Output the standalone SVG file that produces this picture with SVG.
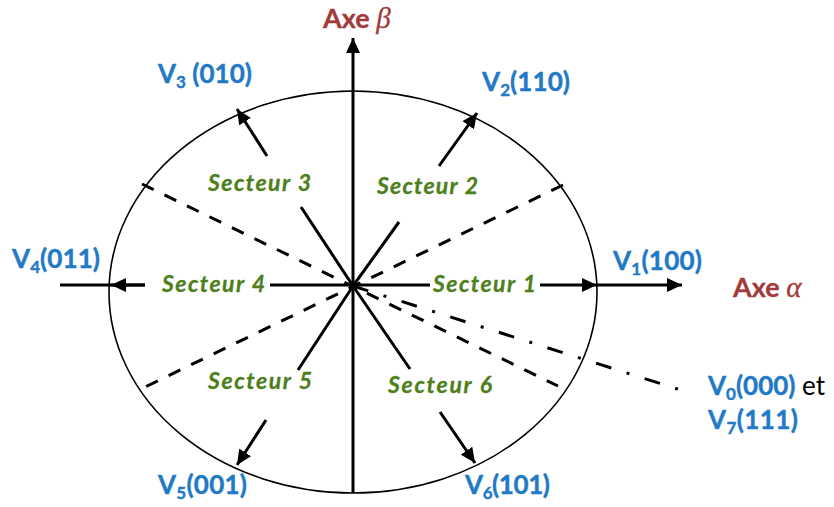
<svg xmlns="http://www.w3.org/2000/svg" width="834" height="507" viewBox="0 0 834 507">
<style>
.ln{stroke:#000;stroke-width:3;fill:none}
.ar{stroke:#000;stroke-width:3;fill:none;marker-end:url(#ah)}
.da{stroke:#000;stroke-width:3;fill:none;stroke-dasharray:13 12}
.dd{stroke:#000;stroke-width:3;fill:none;stroke-dasharray:16 16 3 16}
.v{font-family:Lato,"Liberation Sans",sans-serif;font-weight:bold;font-size:26px;fill:#2279c6;stroke:#2279c6;stroke-width:0.4}
.sub{font-size:17px}
.s{font-family:Lato,"Liberation Sans",sans-serif;font-weight:bold;font-style:italic;font-size:23px;fill:#4e7f1c;stroke:#4e7f1c;stroke-width:0.3}
.ax{font-family:Lato,"Liberation Sans",sans-serif;font-weight:bold;font-size:27px;fill:#a23a3a;stroke:#a23a3a;stroke-width:0.3}
.gr{font-family:"Liberation Serif",serif;font-style:italic;font-weight:normal;font-size:29px}
</style>
<defs>
<marker id="ah" markerUnits="userSpaceOnUse" markerWidth="16" markerHeight="14" refX="15" refY="7" orient="auto">
<path d="M0,0 L15,7 L0,14 z" fill="#000"/>
</marker>
</defs>
<g id="circle"><ellipse cx="353" cy="292" rx="244" ry="201" fill="none" stroke="#000" stroke-width="1.6"/></g>
<g id="connectors">
<line class="ar" x1="353" y1="493" x2="353" y2="38"/>
<line class="ln" x1="60" y1="285" x2="145" y2="285"/>
<line class="ar" x1="145" y1="285" x2="111" y2="285"/>
<line class="ln" x1="270" y1="285" x2="430" y2="285"/>
<line class="ar" x1="540" y1="285" x2="597" y2="285"/>
<line class="ar" x1="597" y1="285" x2="682" y2="285"/>
<line class="ln" x1="353" y1="286" x2="301" y2="207"/>
<line class="ar" x1="267" y1="156" x2="237" y2="109"/>
<line class="ln" x1="353" y1="286" x2="399" y2="222"/>
<line class="ar" x1="439" y1="166" x2="477" y2="113"/>
<line class="ln" x1="353" y1="286" x2="298" y2="370"/>
<line class="ar" x1="266" y1="420" x2="237" y2="465"/>
<line class="ln" x1="353" y1="286" x2="410" y2="369"/>
<line class="ar" x1="440" y1="412" x2="475" y2="463"/>
<line class="da" x1="142" y1="184" x2="558" y2="386"/>
<line class="da" x1="563" y1="185" x2="143" y2="388"/>
<line class="dd" x1="353" y1="286" x2="690" y2="393"/>
</g>
<g id="axe-beta"><text class="ax" x="323" y="28">Axe <tspan class="gr">β</tspan></text></g>
<g id="axe-alpha"><text class="ax" x="733" y="297">Axe <tspan class="gr">α</tspan></text></g>
<g id="v3"><text class="v" x="158" y="83" textLength="94">V<tspan class="sub" dy="5">3</tspan><tspan dy="-5"> (010)</tspan></text></g>
<g id="v2"><text class="v" x="482" y="91" textLength="88">V<tspan class="sub" dy="5">2</tspan><tspan dy="-5">(110)</tspan></text></g>
<g id="v4"><text class="v" x="12" y="268" textLength="88">V<tspan class="sub" dy="5">4</tspan><tspan dy="-5">(011)</tspan></text></g>
<g id="v1"><text class="v" x="613" y="270" textLength="89">V<tspan class="sub" dy="5">1</tspan><tspan dy="-5">(100)</tspan></text></g>
<g id="v0"><text class="v" x="708" y="395">V<tspan class="sub" dy="5">0</tspan><tspan dy="-5">(000)</tspan><tspan fill="#000" stroke="none" font-weight="normal"> et</tspan></text></g>
<g id="v7"><text class="v" x="708" y="429" textLength="90">V<tspan class="sub" dy="5">7</tspan><tspan dy="-5">(111)</tspan></text></g>
<g id="v5"><text class="v" x="158" y="494" textLength="89">V<tspan class="sub" dy="5">5</tspan><tspan dy="-5">(001)</tspan></text></g>
<g id="v6"><text class="v" x="465" y="494" textLength="85">V<tspan class="sub" dy="5">6</tspan><tspan dy="-5">(101)</tspan></text></g>
<g id="sect1"><text class="s" x="433" y="292" textLength="103">Secteur 1</text></g>
<g id="sect2"><text class="s" x="377" y="194" textLength="101">Secteur 2</text></g>
<g id="sect3"><text class="s" x="208" y="191" textLength="103">Secteur 3</text></g>
<g id="sect4"><text class="s" x="162" y="292" textLength="103">Secteur 4</text></g>
<g id="sect5"><text class="s" x="208" y="389" textLength="104">Secteur 5</text></g>
<g id="sect6"><text class="s" x="388" y="393" textLength="104">Secteur 6</text></g>
</svg>
